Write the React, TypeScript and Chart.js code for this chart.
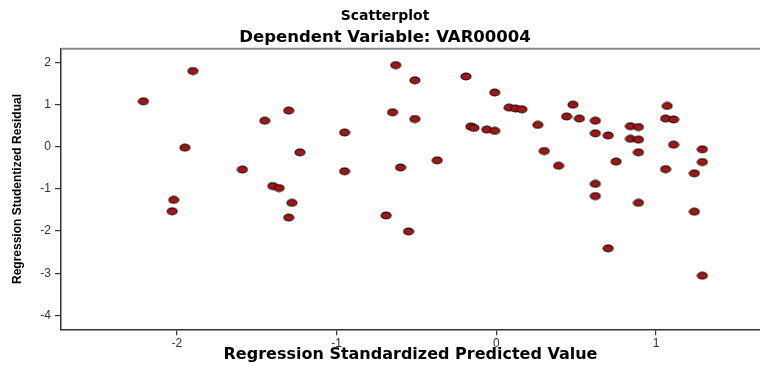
import React, { useEffect, useRef } from "react";
import { Chart, registerables } from "chart.js";

Chart.register(...registerables);

const TITLE = "Scatterplot";
const SUBTITLE = "Dependent Variable: VAR00004";
const X_TITLE = "Regression Standardized Predicted Value";
const Y_TITLE = "Regression Studentized Residual";

const X_TICKS = [-2, -1, 0, 1];
const Y_TICKS = [-4, -3, -2, -1, 0, 1, 2];

const X_VALUES = [
  -2.21, -1.9, -1.3, -1.45, -1.95, -1.23, -1.59, -1.4, -1.36, -1.28, -2.02, -2.03, -1.3,
  -0.63, -0.51, -0.19, -0.01, 0.08, 0.12, 0.16, -0.65, -0.51, -0.16, -0.14, -0.06, -0.01,
  -0.95, -0.37, -0.6, -0.95, -0.69, -0.55,
  0.48, 0.26, 0.44, 0.52, 0.62, 0.62, 0.7, 0.84, 0.89, 0.84, 0.89, 0.89, 1.07, 1.06, 1.11,
  1.11, 1.29, 1.29, 0.3, 0.39, 0.75, 1.06, 1.24, 0.62, 0.62, 0.89, 1.24, 0.7, 1.29,
];
const Y_VALUES = [
  1.08, 1.8, 0.86, 0.62, -0.02, -0.13, -0.54, -0.93, -0.98, -1.33, -1.26, -1.53, -1.68,
  1.94, 1.58, 1.67, 1.29, 0.93, 0.91, 0.89, 0.82, 0.66, 0.48, 0.45, 0.41, 0.38,
  0.34, -0.32, -0.49, -0.58, -1.63, -2.01,
  1.0, 0.52, 0.72, 0.67, 0.62, 0.32, 0.27, 0.49, 0.47, 0.19, 0.17, -0.13, 0.97, 0.67, 0.65,
  0.05, -0.06, -0.36, -0.1, -0.45, -0.35, -0.53, -0.63, -0.88, -1.17, -1.33, -1.54, -2.41, -3.06,
];

const X_MIN = -2.726;
const X_MAX = 1.651;
const Y_MIN = -4.332;
const Y_MAX = 2.33;

function makeMarker(): HTMLCanvasElement {
  const c = document.createElement("canvas");
  c.width = 12;
  c.height = 9;
  const g = c.getContext("2d")!;
  g.beginPath();
  g.ellipse(6, 4.5, 5, 3.4, 0, 0, Math.PI * 2);
  g.fillStyle = "#a11616";
  g.fill();
  g.lineWidth = 1.1;
  g.strokeStyle = "#2a0808";
  g.stroke();
  return c;
}

const frame = {
  id: "frame",
  afterDraw(chart: any) {
    const { ctx, chartArea } = chart;
    ctx.save();
    ctx.strokeStyle = "#8a8a8a";
    ctx.lineWidth = 2;
    ctx.beginPath();
    ctx.moveTo(chartArea.left, chartArea.top);
    ctx.lineTo(chartArea.right, chartArea.top);
    ctx.stroke();
    ctx.restore();
  },
};

export default function App() {
  const ref = useRef<HTMLCanvasElement | null>(null);
  useEffect(() => {
    if (!ref.current) return;
    const marker = makeMarker();
    const data = X_VALUES.map((x, i) => ({ x, y: Y_VALUES[i] }));
    const chart = new Chart(ref.current, {
      type: "scatter",
      data: {
        datasets: [
          {
            data,
            pointStyle: marker as any,
            pointRadius: 5,
            backgroundColor: "#a11616",
            borderColor: "#2a0808",
          },
        ],
      },
      plugins: [frame],
      options: {
        animation: false,
        responsive: false,
        devicePixelRatio: 1,
        layout: { autoPadding: false, padding: { top: 0, left: 10, right: 0, bottom: 0 } },
        plugins: {
          legend: { display: false },
          tooltip: { enabled: false },
          title: {
            display: true,
            text: TITLE,
            color: "#000",
            font: { family: "DejaVu Sans", size: 14, weight: "bold" },
            padding: { top: 8, bottom: 3 },
          },
          subtitle: {
            display: true,
            text: SUBTITLE,
            color: "#000",
            font: { family: "DejaVu Sans", size: 16.5, weight: "bold" },
            padding: { top: 0.3, bottom: 0.8 },
          },
        },
        scales: {
          x: {
            type: "linear",
            min: X_MIN,
            max: X_MAX,
            afterFit: (s: any) => {
              s.height = 35.7;
            },
            afterBuildTicks: (s: any) => {
              s.ticks = X_TICKS.map((v) => ({ value: v }));
            },
            ticks: {
              color: "#333",
              font: { family: "Liberation Sans", size: 12 },
              padding: 1,
              callback: (v: any) => String(v),
            },
            grid: {
              display: true,
              drawOnChartArea: false,
              drawTicks: true,
              tickLength: 6,
              color: "#333",
              lineWidth: 1.2,
            },
            border: { display: true, color: "#333", width: 1.5 },
            title: {
              display: true,
              text: X_TITLE,
              color: "#000",
              font: { family: "DejaVu Sans", size: 16, weight: "bold" },
              padding: { top: 0, bottom: 0.4 },
            },
          },
          y: {
            type: "linear",
            min: Y_MIN,
            max: Y_MAX,
            afterFit: (s: any) => {
              s.width = 51;
            },
            afterBuildTicks: (s: any) => {
              s.ticks = Y_TICKS.map((v) => ({ value: v }));
            },
            ticks: {
              color: "#333",
              font: { family: "Liberation Sans", size: 12 },
              padding: 4,
              callback: (v: any) => String(v),
            },
            grid: {
              display: true,
              drawOnChartArea: false,
              drawTicks: true,
              tickLength: 6,
              color: "#333",
              lineWidth: 1.2,
            },
            border: { display: true, color: "#333", width: 1.5 },
            title: {
              display: true,
              text: Y_TITLE,
              color: "#000",
              font: { family: "Liberation Sans", size: 12, weight: "bold" },
              padding: { top: 0, bottom: 0 },
            },
          },
        },
      },
    });
    return () => chart.destroy();
  }, []);
  return (
    <div style={{ position: "absolute", left: 0, top: 0, width: 760, height: 365, background: "#fff" }}>
      <canvas ref={ref} width={760} height={365} />
    </div>
  );
}
